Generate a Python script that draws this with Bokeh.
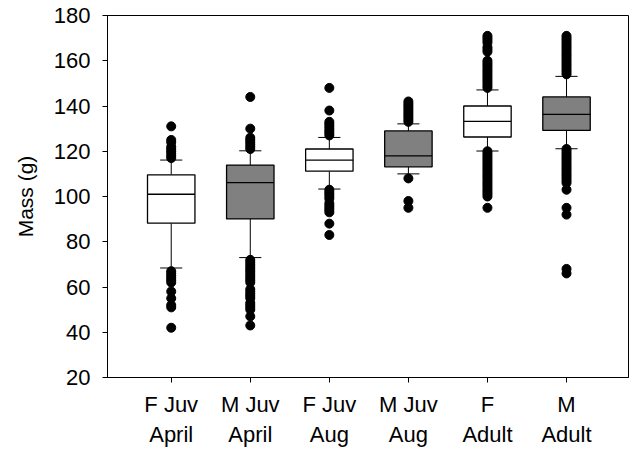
from bokeh.plotting import figure
from bokeh.models import Range1d, FixedTicker, ColumnDataSource
from bokeh.embed import file_html
from bokeh.resources import INLINE

# ---- data ----
groups = ["F Juv\nApril", "M Juv\nApril", "F Juv\nAug", "M Juv\nAug", "F\nAdult", "M\nAdult"]
positions = [1, 2, 3, 4, 5, 6]
q1 = [88.2, 90.1, 111.2, 113.1, 126.3, 129.2]
median = [101.0, 106.1, 116.1, 118.0, 133.2, 136.3]
q3 = [109.6, 113.9, 121.0, 129.0, 140.0, 144.0]
whisker_low = [68.4, 73.0, 103.3, 110.0, 120.1, 121.1]
whisker_high = [116.1, 120.2, 126.1, 132.1, 147.1, 153.1]
box_colors = ["#ffffff", "#808080", "#ffffff", "#808080", "#ffffff", "#808080"]

out_f_juv_april = [117, 118, 119, 120, 121, 122, 124, 125, 131,
                   67, 66, 65, 64, 63, 62, 58, 55, 52, 51, 42]
out_m_juv_april = [121, 122, 123, 124, 125, 126, 130, 144,
                   72, 71, 70, 69, 68, 67, 66, 65, 64, 63, 62,
                   59, 58, 57, 56, 55, 53, 52, 51, 50, 47, 43]
out_f_juv_aug = [127, 128, 129, 130, 131, 132, 133, 138, 148,
                 103, 102, 101, 100, 99, 97, 96, 95, 94, 93, 88, 83]
out_m_juv_aug = [133, 134, 135, 136, 137, 138, 139, 140, 141, 142,
                 108, 98, 95]
out_f_adult = [148, 149, 150, 151, 152, 153, 154, 155, 156, 157, 158, 159, 160,
               164, 165, 166, 168, 169, 170, 171,
               120, 119, 118, 117, 116, 115, 114, 113, 112, 111, 110, 109,
               108, 107, 106, 105, 104, 103, 102, 101, 100, 95]
out_m_adult = [154, 155, 156, 157, 158, 159, 160, 161, 162, 163, 164, 165, 166,
               167, 168, 169, 170, 171,
               121, 120, 119, 118, 117, 116, 115, 114, 113, 112, 111, 110, 109,
               108, 107, 106, 103, 95, 92, 68, 66]
outliers = [out_f_juv_april, out_m_juv_april, out_f_juv_aug,
            out_m_juv_aug, out_f_adult, out_m_adult]

FONT = "Liberation Sans"

p = figure(width=629, height=450, output_backend="svg", toolbar_location=None,
           x_range=Range1d(0.194, 6.784), y_range=Range1d(20, 180),
           min_border_left=107, min_border_right=1, min_border_top=15,
           min_border_bottom=72)
p.background_fill_color = "white"
p.border_fill_color = "white"
p.outline_line_color = "black"
p.outline_line_width = 1
p.xgrid.visible = False
p.ygrid.visible = False

# whiskers
p.segment(x0=positions, y0=q3, x1=positions, y1=whisker_high, line_color="black", line_width=1)
p.segment(x0=positions, y0=q1, x1=positions, y1=whisker_low, line_color="black", line_width=1)
cap = 0.14
p.segment(x0=[x - cap for x in positions], y0=whisker_high,
          x1=[x + cap for x in positions], y1=whisker_high, line_color="black", line_width=1)
p.segment(x0=[x - cap for x in positions], y0=whisker_low,
          x1=[x + cap for x in positions], y1=whisker_low, line_color="black", line_width=1)

# boxes
src = ColumnDataSource(dict(x=positions, q1=q1, q3=q3, c=box_colors))
p.vbar(x="x", width=0.6, bottom="q1", top="q3", fill_color="c",
       line_color="black", line_width=1.3, source=src)
p.segment(x0=[x - 0.3 for x in positions], y0=median,
          x1=[x + 0.3 for x in positions], y1=median, line_color="black", line_width=1.3)

# outliers
ox, oy = [], []
for pos, vals in zip(positions, outliers):
    ox.extend([pos] * len(vals))
    oy.extend(vals)
p.scatter(ox, oy, size=9, fill_color="black", line_color="black")

# axes
p.xaxis.ticker = FixedTicker(ticks=positions)
p.xaxis.major_label_overrides = {pos: g for pos, g in zip(positions, groups)}
p.yaxis.ticker = FixedTicker(ticks=[20, 40, 60, 80, 100, 120, 140, 160, 180])
for ax in (p.xaxis[0], p.yaxis[0]):
    ax.major_tick_in = 0
    ax.major_tick_out = 5
    ax.minor_tick_line_color = None
    ax.axis_line_color = "black"
    ax.major_tick_line_color = "black"
    ax.major_label_text_font = FONT
    ax.major_label_text_font_size = "22px"
    ax.major_label_text_color = "black"
p.xaxis.major_label_standoff = 9
p.xaxis.major_label_text_line_height = 1.23
p.yaxis.major_label_standoff = 12
p.yaxis.axis_label = "Mass (g)"
p.yaxis.axis_label_text_font = FONT
p.yaxis.axis_label_text_font_size = "21px"
p.yaxis.axis_label_text_font_style = "normal"
p.yaxis.axis_label_text_color = "black"
p.yaxis.axis_label_standoff = 14

open("out.html", "w").write(file_html(p, INLINE))
